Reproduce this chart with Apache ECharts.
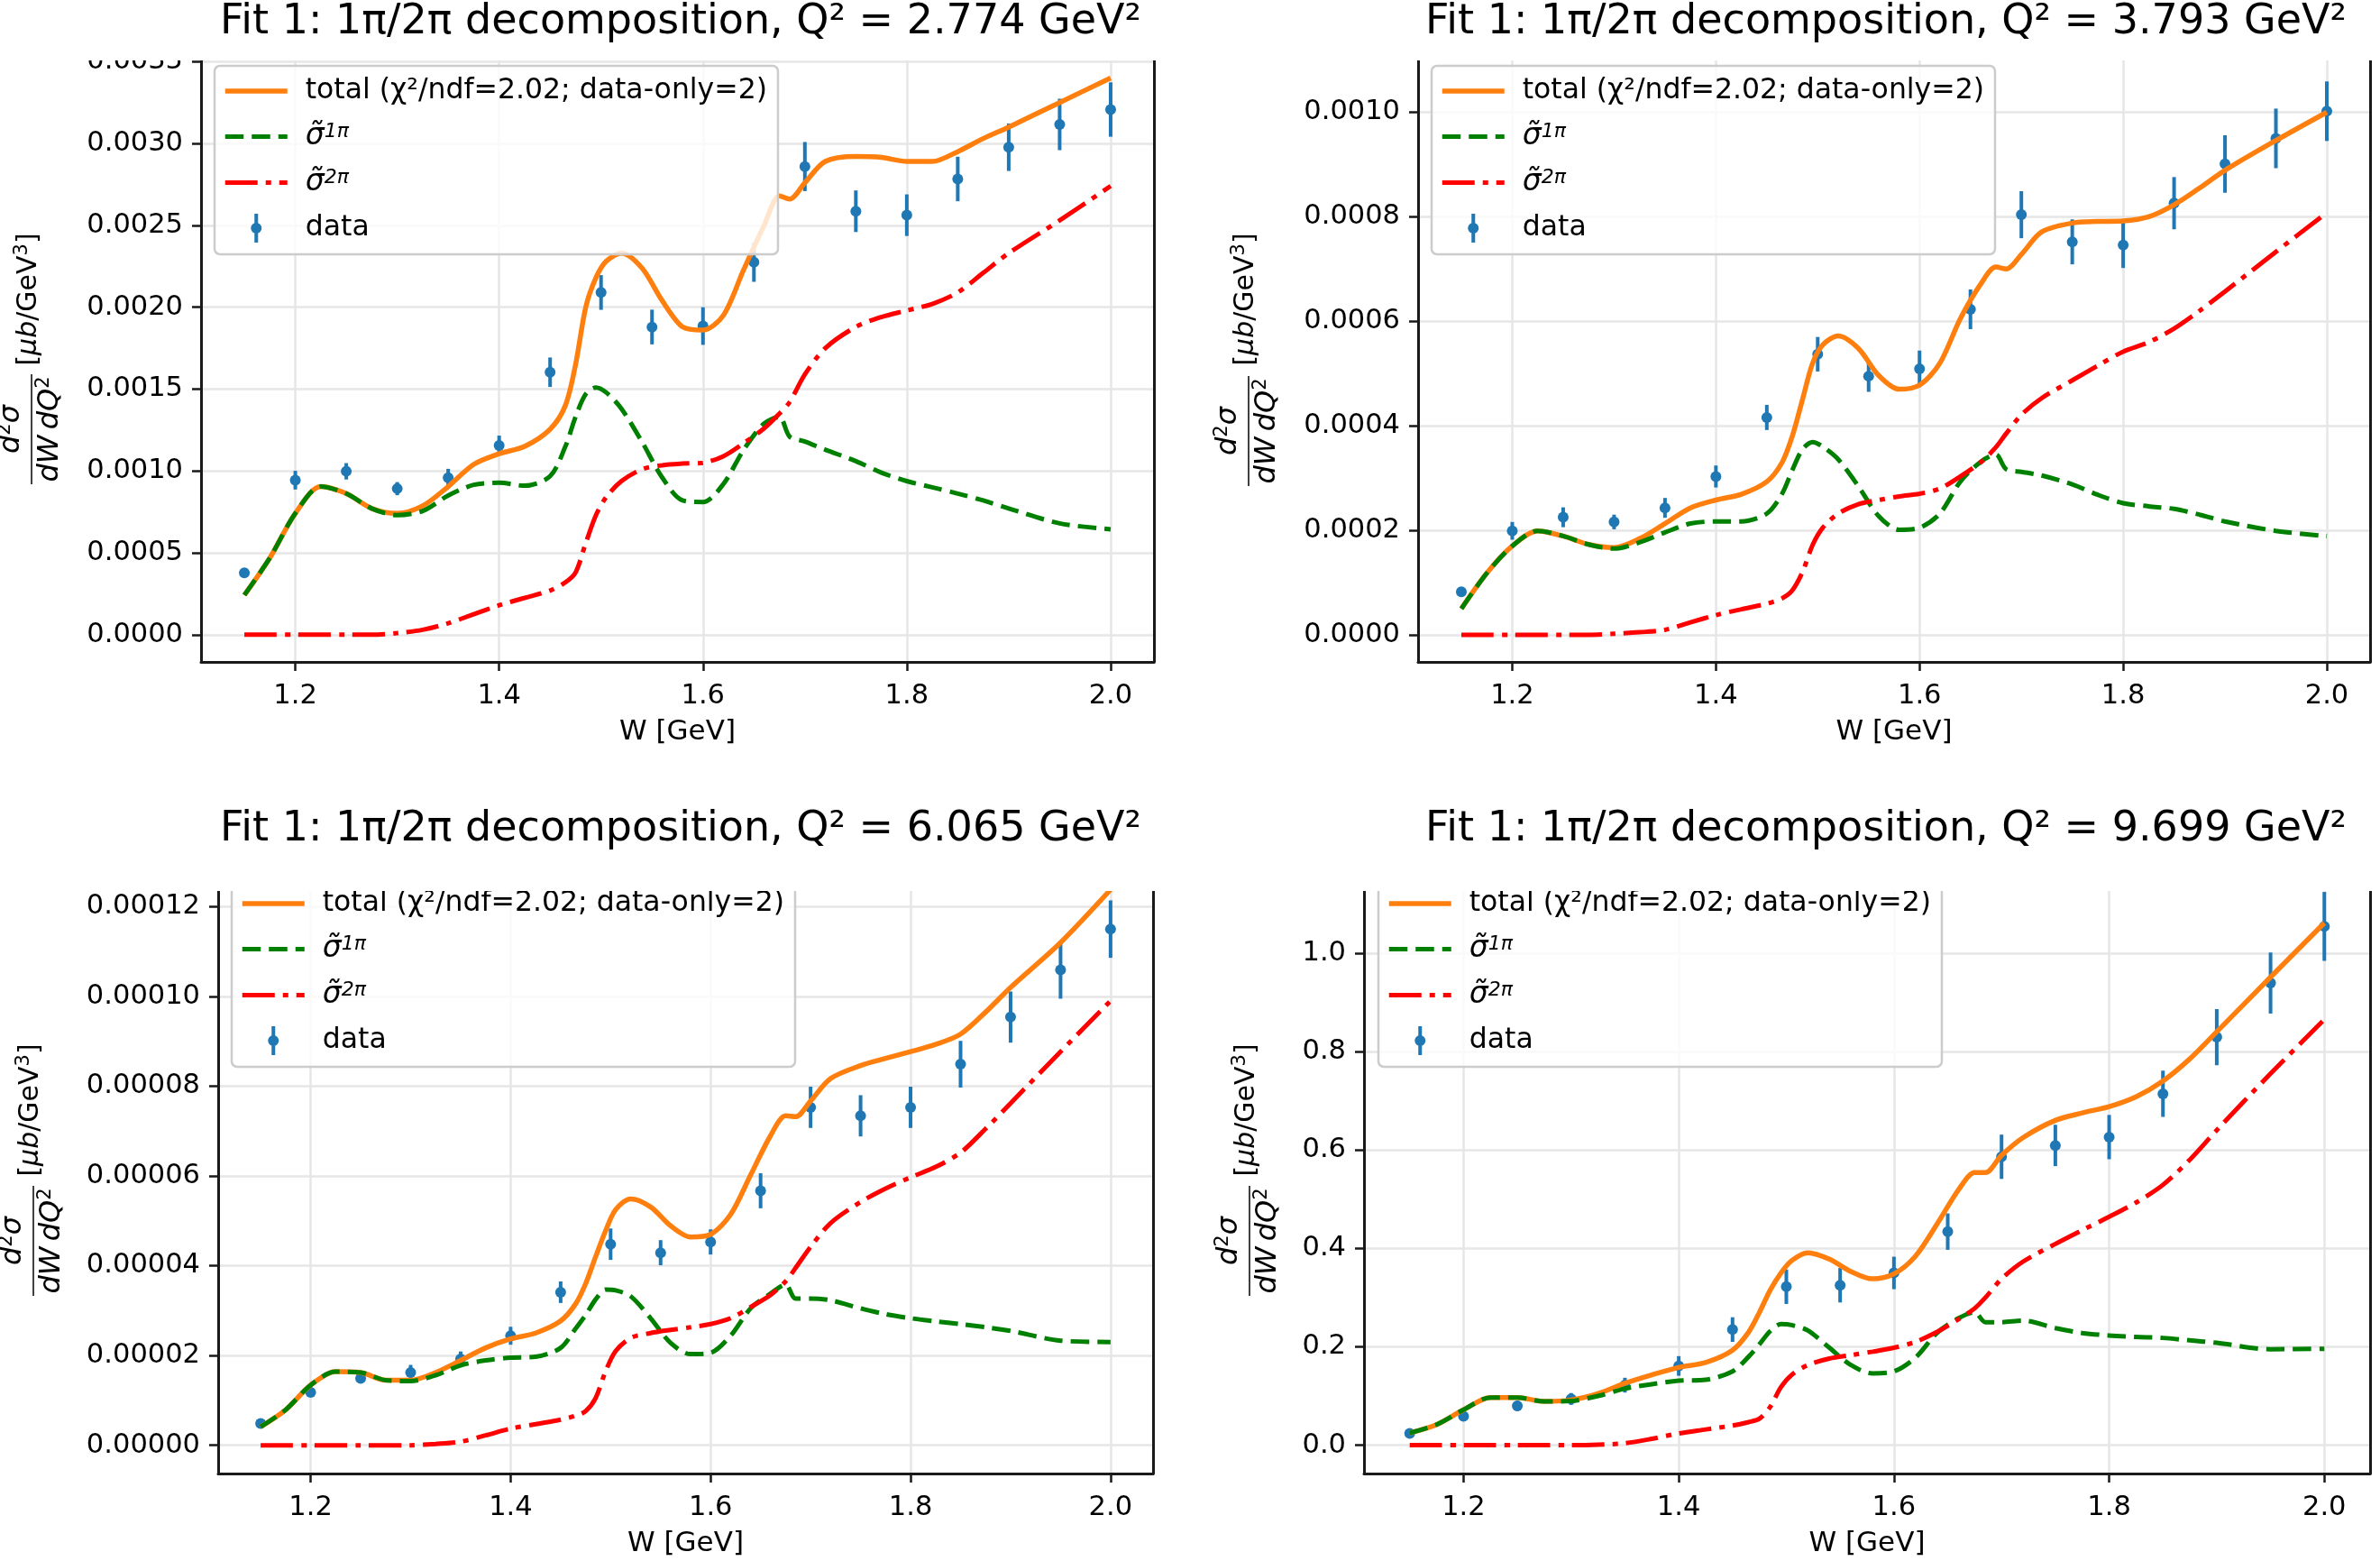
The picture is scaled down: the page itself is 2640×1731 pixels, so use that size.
<!DOCTYPE html>
<html>
<head>
<meta charset="utf-8">
<title>Fit 1: 1π/2π decomposition</title>
<script src="https://cdn.jsdelivr.net/npm/echarts@6.0.0/dist/echarts.min.js"></script>
<style>
  html, body { margin: 0; padding: 0; background: #fff; }
  #main { width: 2640px; height: 1731px; }
</style>
</head>
<body>
<div id="main"></div>
<script>
// W grid of the model curves [GeV]
var curveW = [1.15, 1.175, 1.2, 1.225, 1.25, 1.275, 1.3, 1.325, 1.35, 1.375, 1.4, 1.425, 1.45,
    1.465, 1.475, 1.485, 1.495, 1.505, 1.52, 1.54, 1.56, 1.58, 1.6, 1.62, 1.64, 1.66, 1.675,
    1.685, 1.7, 1.72, 1.75, 1.775, 1.8, 1.825, 1.85, 1.875, 1.9, 1.95, 2.0];

// W of the measured points [GeV]
var dataW = [1.15, 1.2, 1.25, 1.3, 1.35, 1.4, 1.45, 1.5, 1.55, 1.6, 1.65, 1.7, 1.75, 1.8, 1.85, 1.9, 1.95, 2.0];

var q2 = ['2.774', '3.793', '6.065', '9.699'];

// Q2 = 2.774
var total1 = [0.000242, 0.000469, 0.000741, 0.000905, 0.000862, 0.000771, 0.000741, 0.000787, 0.000905, 0.00104, 0.001105, 0.00115, 0.001255,
    0.0014, 0.00165, 0.002, 0.00218, 0.00228, 0.00233, 0.00224, 0.00204, 0.00188, 0.00186, 0.00195, 0.00223, 0.0025, 0.00268,
    0.00266, 0.00276, 0.00289, 0.00292, 0.002915, 0.00289, 0.00289, 0.00295, 0.00303, 0.0031, 0.00325, 0.0034];
var onePi1 = [0.000242, 0.000469, 0.000741, 0.000905, 0.000862, 0.000771, 0.00073, 0.000756, 0.00085, 0.000915, 0.000928, 0.00091, 0.000968,
    0.00115, 0.00133, 0.00147, 0.00151, 0.00148, 0.00138, 0.00118, 0.00096, 0.00082, 0.00081, 0.00092, 0.00113, 0.00129, 0.00133,
    0.00121, 0.00118, 0.00113, 0.00106, 0.00099, 0.000938, 0.0009, 0.000862, 0.00082, 0.000771, 0.00068, 0.000644];
var twoPi1 = [0, 0, 0, 0, 0, 0, 0.00001, 0.00003, 0.00007, 0.000125, 0.00018, 0.000225, 0.00027,
    0.00032, 0.00038, 0.00056, 0.00073, 0.00084, 0.000938, 0.00101, 0.001035, 0.001045, 0.00105, 0.00109, 0.00117, 0.00126, 0.00135,
    0.00142, 0.00159, 0.00175, 0.00188, 0.00194, 0.00198, 0.00202, 0.00209, 0.00221, 0.00233, 0.00253, 0.00274];
var data1 = [0.000378, 0.000944, 0.000998, 0.000892, 0.000959, 0.001156, 0.001603, 0.00209, 0.001879, 0.001885, 0.002275, 0.002859, 0.002586, 0.002562, 0.002783, 0.002977, 0.003116, 0.003207];
var err1 = [0.00002, 0.000057, 0.00005, 0.00004, 0.000054, 0.00006, 0.00009, 0.000106, 0.000106, 0.000115, 0.00012, 0.00015, 0.000127, 0.000127, 0.000136, 0.000145, 0.000157, 0.000166];

// Q2 = 3.793
var total2 = [0.00005, 0.000118, 0.00017, 0.000199, 0.000189, 0.000173, 0.000167, 0.000184, 0.000213, 0.000243, 0.000258, 0.000269, 0.000293,
    0.00033, 0.00038, 0.00045, 0.00052, 0.000555, 0.000572, 0.000548, 0.000496, 0.00047, 0.000478, 0.00052, 0.000605, 0.000671, 0.000704,
    0.0007, 0.000728, 0.000771, 0.000788, 0.000791, 0.000792, 0.0008, 0.000823, 0.000855, 0.000889, 0.000946, 0.001];
var onePi2 = [0.00005, 0.000118, 0.00017, 0.000199, 0.000189, 0.000173, 0.000165, 0.000177, 0.000196, 0.000213, 0.000217, 0.000217, 0.000232,
    0.00027, 0.000315, 0.000355, 0.000369, 0.00036, 0.000336, 0.000284, 0.000227, 0.000201, 0.000205, 0.000232, 0.000293, 0.000331, 0.000345,
    0.000317, 0.000312, 0.000305, 0.000288, 0.000268, 0.000252, 0.000246, 0.000241, 0.00023, 0.000217, 0.000199, 0.000189];
var twoPi2 = [0, 0, 0, 0, 0, 0, 0.000002, 0.000005, 0.0000095, 0.000024, 0.0000378, 0.000049, 0.0000596,
    0.00007, 0.000085, 0.00012, 0.000172, 0.000205, 0.000232, 0.00025, 0.000258, 0.000265, 0.00027, 0.00028, 0.000303, 0.00033, 0.000359,
    0.000385, 0.000421, 0.000453, 0.000487, 0.000515, 0.000542, 0.00056, 0.000586, 0.00062, 0.000657, 0.000733, 0.000808];
var data2 = [0.0000823, 0.000199, 0.000225, 0.000216, 0.000243, 0.000303, 0.000416, 0.000537, 0.000495, 0.000509, 0.000623, 0.000804, 0.000752, 0.000746, 0.000826, 0.000901, 0.00095, 0.001002];
var err2 = [0.000006, 0.000017, 0.000019, 0.000014, 0.000019, 0.000021, 0.000024, 0.000033, 0.00003, 0.000035, 0.000038, 0.000045, 0.000043, 0.000044, 0.00005, 0.000055, 0.000057, 0.000057];

// Q2 = 6.065
var total3 = [0.0000041, 0.0000079, 0.0000134, 0.0000164, 0.0000162, 0.0000145, 0.0000145, 0.0000162, 0.0000189, 0.0000217, 0.0000237, 0.000025, 0.0000277,
    0.0000315, 0.000036, 0.000042, 0.0000478, 0.0000525, 0.0000549, 0.0000531, 0.0000489, 0.0000464, 0.000047, 0.0000514, 0.0000602, 0.000069, 0.0000734,
    0.0000732, 0.0000767, 0.0000817, 0.0000846, 0.0000862, 0.0000877, 0.0000893, 0.0000916, 0.0000965, 0.000102, 0.000112, 0.0001238];
var onePi3 = [0.0000041, 0.0000079, 0.0000134, 0.0000164, 0.0000162, 0.0000145, 0.0000143, 0.0000156, 0.0000178, 0.0000189, 0.0000195, 0.0000197, 0.0000217,
    0.000026, 0.000029, 0.0000325, 0.0000347, 0.0000345, 0.0000332, 0.0000283, 0.0000228, 0.0000203, 0.0000206, 0.0000244, 0.0000305, 0.0000338, 0.0000358,
    0.0000327, 0.0000327, 0.0000323, 0.0000305, 0.0000292, 0.0000283, 0.0000276, 0.000027, 0.0000263, 0.0000255, 0.0000233, 0.000023];
var twoPi3 = [0, 0, 0, 0, 0, 0, 0, 0.0000003, 0.0000008, 0.0000022, 0.0000037, 0.0000047, 0.0000057,
    0.0000066, 0.0000076, 0.0000105, 0.0000165, 0.000021, 0.0000239, 0.000025, 0.0000257, 0.0000263, 0.000027, 0.0000283, 0.0000308, 0.0000335, 0.0000365,
    0.0000395, 0.0000442, 0.0000495, 0.0000542, 0.0000572, 0.0000597, 0.000062, 0.0000652, 0.0000705, 0.0000762, 0.0000877, 0.000099];
var data3 = [0.00000484, 0.0000118, 0.0000149, 0.0000162, 0.0000192, 0.0000244, 0.0000341, 0.0000448, 0.0000429, 0.0000453, 0.0000567, 0.0000753, 0.0000734, 0.0000753, 0.0000849, 0.0000954, 0.0001059, 0.000115];
var err3 = [0.0000005, 0.0000009, 0.0000011, 0.0000017, 0.0000017, 0.000002, 0.0000024, 0.0000035, 0.0000028, 0.0000028, 0.0000039, 0.0000046, 0.0000046, 0.0000046, 0.0000052, 0.0000057, 0.0000064, 0.0000064];

// Q2 = 9.699
var total4 = [0.025, 0.042, 0.072, 0.097, 0.097, 0.089, 0.092, 0.105, 0.126, 0.143, 0.158, 0.168, 0.193,
    0.23, 0.27, 0.315, 0.35, 0.375, 0.391, 0.378, 0.353, 0.338, 0.348, 0.384, 0.449, 0.519, 0.554,
    0.554, 0.589, 0.625, 0.66, 0.675, 0.688, 0.708, 0.74, 0.785, 0.84, 0.951, 1.061];
var onePi4 = [0.025, 0.042, 0.072, 0.097, 0.097, 0.089, 0.09, 0.1, 0.115, 0.124, 0.131, 0.133, 0.15,
    0.18, 0.205, 0.232, 0.246, 0.244, 0.233, 0.198, 0.163, 0.146, 0.15, 0.178, 0.228, 0.258, 0.27,
    0.25, 0.25, 0.253, 0.238, 0.228, 0.223, 0.22, 0.218, 0.213, 0.208, 0.195, 0.196];
var twoPi4 = [0, 0, 0, 0, 0, 0, 0, 0.001, 0.004, 0.013, 0.024, 0.032, 0.04,
    0.047, 0.054, 0.078, 0.118, 0.143, 0.163, 0.176, 0.183, 0.19, 0.198, 0.21, 0.23, 0.256, 0.278,
    0.3, 0.338, 0.373, 0.409, 0.437, 0.464, 0.493, 0.529, 0.58, 0.64, 0.755, 0.865];
var data4 = [0.024, 0.059, 0.08, 0.094, 0.122, 0.161, 0.235, 0.322, 0.325, 0.35, 0.434, 0.586, 0.609, 0.626, 0.714, 0.829, 0.939, 1.054];
var err4 = [0.004, 0.01, 0.01, 0.012, 0.015, 0.02, 0.025, 0.035, 0.035, 0.033, 0.037, 0.045, 0.042, 0.045, 0.047, 0.057, 0.062, 0.07];

var panels = [
    {total: total1, one: onePi1, two: twoPi1, data: data1, err: err1},
    {total: total2, one: onePi2, two: twoPi2, data: data2, err: err2},
    {total: total3, one: onePi3, two: twoPi3, data: data3, err: err3},
    {total: total4, one: onePi4, two: twoPi4, data: data4, err: err4}
];

// axes boxes and label placement, px
var layout = [
    {left: 223, top: 67, width: 1057, height: 667, yMin: -0.000166, yMax: 0.003507, step: 0.0005, digits: 4,
        titleX: 755, titleY: 25, legendLeft: 238, legendTop: 73, labelX: 35, fracY: 476, unitY: 332},
    {left: 1573, top: 67, width: 1056, height: 667, yMin: -0.0000518, yMax: 0.0010992, step: 0.0002, digits: 4,
        titleX: 2092, titleY: 25, legendLeft: 1588, legendTop: 73, labelX: 1385, fracY: 478, unitY: 332},
    {left: 242, top: 988, width: 1037, height: 646, yMin: -0.0000063, yMax: 0.0001235, step: 0.00002, digits: 5,
        titleX: 755, titleY: 920, legendLeft: 257, legendTop: 974, labelX: 37, fracY: 1376, unitY: 1231},
    {left: 1513, top: 988, width: 1116, height: 646, yMin: -0.0575, yMax: 1.126, step: 0.2, digits: 1,
        titleX: 2092, titleY: 920, legendLeft: 1529, legendTop: 974, labelX: 1386, fracY: 1376, unitY: 1231}
];

var FONT = 'DejaVu Sans';
var INK = '#1a1a1a';
var GRID = '#e6e6e6';
var NAME_TOTAL = 'total (χ²/ndf=2.02; data-only=2)';
var NAME_ONE = 'σ̃1π';
var NAME_TWO = 'σ̃2π';
var DASH = [20.5, 9];
var DASH_DOT = [36, 9, 6, 9];
var DATA_ICON = 'path://M-2,-16L2,-16L2,-5.5L-2,-5.5Z M-2,5.5L2,5.5L2,16L-2,16Z M-6,0A6,6 0 1,1 6,0A6,6 0 1,1 -6,0Z';

function pairs(xs, ys) {
    return xs.map(function (x, i) { return [x, ys[i]]; });
}

function renderErr(params, api) {
    var x = api.value(0), y = api.value(1), e = api.value(2);
    var lo = api.coord([x, y - e]);
    var hi = api.coord([x, y + e]);
    return {
        type: 'line',
        shape: {x1: lo[0], y1: lo[1], x2: hi[0], y2: hi[1]},
        style: {stroke: '#1f77b4', lineWidth: 4}
    };
}

var grids = [], xAxes = [], yAxes = [], series = [], legends = [], graphics = [];

layout.forEach(function (L, i) {
    var P = panels[i];
    grids.push({left: L.left, top: L.top, width: L.width, height: L.height});

    xAxes.push({
        type: 'value', gridIndex: i, min: 1.1075, max: 2.0425, minInterval: 0.2, maxInterval: 0.2,
        name: 'W [GeV]', nameLocation: 'middle', nameGap: 62,
        nameTextStyle: {fontFamily: FONT, fontSize: 31, color: '#000'},
        axisLine: {show: true, onZero: false, lineStyle: {color: INK, width: 3}},
        axisTick: {show: true, length: 10, lineStyle: {color: INK, width: 2.5}},
        axisLabel: {
            margin: 23, fontFamily: FONT, fontSize: 30.5, color: '#000',
            showMinLabel: false, showMaxLabel: false,
            formatter: function (v) { return v.toFixed(1); }
        },
        splitLine: {show: true, showMinLine: false, showMaxLine: false, lineStyle: {color: GRID, width: 2.5}}
    });

    yAxes.push({
        type: 'value', gridIndex: i, min: L.yMin, max: L.yMax, minInterval: L.step, maxInterval: L.step,
        axisLine: {show: true, onZero: false, lineStyle: {color: INK, width: 3}},
        axisTick: {show: true, length: 10, lineStyle: {color: INK, width: 2.5}},
        axisLabel: {
            margin: 20, fontFamily: FONT, fontSize: 30.5, color: '#000',
            showMinLabel: false, showMaxLabel: false,
            formatter: function (v) { return v.toFixed(L.digits); }
        },
        splitLine: {show: true, showMinLine: false, showMaxLine: false, lineStyle: {color: GRID, width: 2.5}}
    });
    // right spine
    yAxes.push({
        type: 'value', gridIndex: i, position: 'right', min: L.yMin, max: L.yMax,
        axisLine: {show: true, onZero: false, lineStyle: {color: INK, width: 3}},
        axisTick: {show: false}, axisLabel: {show: false}, splitLine: {show: false}
    });

    var yi = 2 * i;
    series.push({
        name: NAME_TOTAL, type: 'line', xAxisIndex: i, yAxisIndex: yi,
        data: pairs(curveW, P.total), symbol: 'none', smooth: 0.3,
        lineStyle: {color: '#ff7f0e', width: 5.5}, itemStyle: {color: '#ff7f0e'}
    });
    series.push({
        name: NAME_ONE, type: 'line', xAxisIndex: i, yAxisIndex: yi,
        data: pairs(curveW, P.one), symbol: 'none', smooth: 0.3,
        lineStyle: {color: '#008000', width: 5, type: DASH}, itemStyle: {color: '#008000'}
    });
    series.push({
        name: NAME_TWO, type: 'line', xAxisIndex: i, yAxisIndex: yi,
        data: pairs(curveW, P.two), symbol: 'none', smooth: 0.3,
        lineStyle: {color: '#ff0000', width: 5, type: DASH_DOT}, itemStyle: {color: '#ff0000'}
    });
    series.push({
        name: 'data-err', type: 'custom', xAxisIndex: i, yAxisIndex: yi,
        data: dataW.map(function (w, k) { return [w, P.data[k], P.err[k]]; }),
        encode: {x: 0, y: 1}, renderItem: renderErr
    });
    series.push({
        name: 'data', type: 'scatter', xAxisIndex: i, yAxisIndex: yi,
        data: pairs(dataW, P.data), symbolSize: 12,
        itemStyle: {color: '#1f77b4', opacity: 1}
    });

    legends.push({
        left: L.legendLeft, top: L.legendTop, orient: 'vertical',
        itemWidth: 69, itemHeight: 32, itemGap: 18,
        padding: [12, 12, 13, 9],
        backgroundColor: 'rgba(255,255,255,0.8)', borderColor: '#cccccc', borderWidth: 2.5, borderRadius: 6,
        selectedMode: false,
        textStyle: {
            fontFamily: FONT, fontSize: 31.5, color: '#000',
            rich: {
                t: {fontFamily: FONT, fontSize: 31.5, lineHeight: 32, padding: [0, 0, 0, 15]},
                m: {fontFamily: FONT, fontSize: 33, lineHeight: 32, fontStyle: 'italic', padding: [0, 0, 0, 15]},
                s: {fontFamily: FONT, fontSize: 22, lineHeight: 18, fontStyle: 'italic', verticalAlign: 'top'}
            }
        },
        formatter: function (name) {
            if (name === NAME_ONE) return '{m|σ̃}{s|1π}';
            if (name === NAME_TWO) return '{m|σ̃}{s|2π}';
            return '{t|' + name + '}';
        },
        data: [
            {name: NAME_TOTAL, itemStyle: {opacity: 0}, lineStyle: {width: 5.5}},
            {name: NAME_ONE, itemStyle: {opacity: 0}, lineStyle: {width: 5, type: DASH}},
            {name: NAME_TWO, itemStyle: {opacity: 0}, lineStyle: {width: 5, type: DASH_DOT}},
            {name: 'data', icon: DATA_ICON}
        ]
    });

    graphics.push({
        type: 'text', x: L.titleX, y: L.titleY, z: 120,
        style: {
            text: 'Fit 1: 1π/2π decomposition, Q² = ' + q2[i] + ' GeV²',
            fill: '#000', font: '46px "DejaVu Sans"', align: 'center', verticalAlign: 'middle'
        }
    });

    var mathRich = {
        i: {fontFamily: FONT, fontSize: 32, fontStyle: 'italic', lineHeight: 36},
        r: {fontFamily: FONT, fontSize: 30, lineHeight: 36},
        u: {fontFamily: FONT, fontSize: 30, fontStyle: 'italic', lineHeight: 36},
        s: {fontFamily: FONT, fontSize: 21, lineHeight: 18, verticalAlign: 'top'}
    };
    graphics.push({
        type: 'group', x: L.labelX, y: L.fracY, rotation: Math.PI / 2, z: 60,
        children: [
            {type: 'line', shape: {x1: -61, y1: 0, x2: 61, y2: 0}, style: {stroke: '#000', lineWidth: 1.5}},
            {type: 'text', x: 0, y: -22, style: {text: '{i|d}{s|2}{i|σ}', rich: mathRich, fill: '#000', align: 'center', verticalAlign: 'middle'}},
            {type: 'text', x: 0, y: 21, style: {text: '{i|dW\u2009dQ}{s|2}', rich: mathRich, fill: '#000', align: 'center', verticalAlign: 'middle'}},
            {type: 'text', x: L.fracY - L.unitY, y: -3, style: {text: '{r|[}{u|μb}{r|/GeV}{s|3}{r|]}', rich: mathRich, fill: '#000', align: 'center', verticalAlign: 'middle'}}
        ]
    });
});

// strips that hide the tops of the axes, as in the cropped original
graphics.push({type: 'rect', z: 100, shape: {x: 0, y: 48, width: 2640, height: 19}, style: {fill: '#fff'}});
graphics.push({type: 'rect', z: 100, shape: {x: 0, y: 948, width: 2640, height: 40}, style: {fill: '#fff'}});

var myChart = echarts.init(document.getElementById('main'));
myChart.setOption({
    animation: false,
    backgroundColor: '#fff',
    grid: grids,
    xAxis: xAxes,
    yAxis: yAxes,
    legend: legends,
    series: series,
    graphic: {elements: graphics}
});
</script>
</body>
</html>
